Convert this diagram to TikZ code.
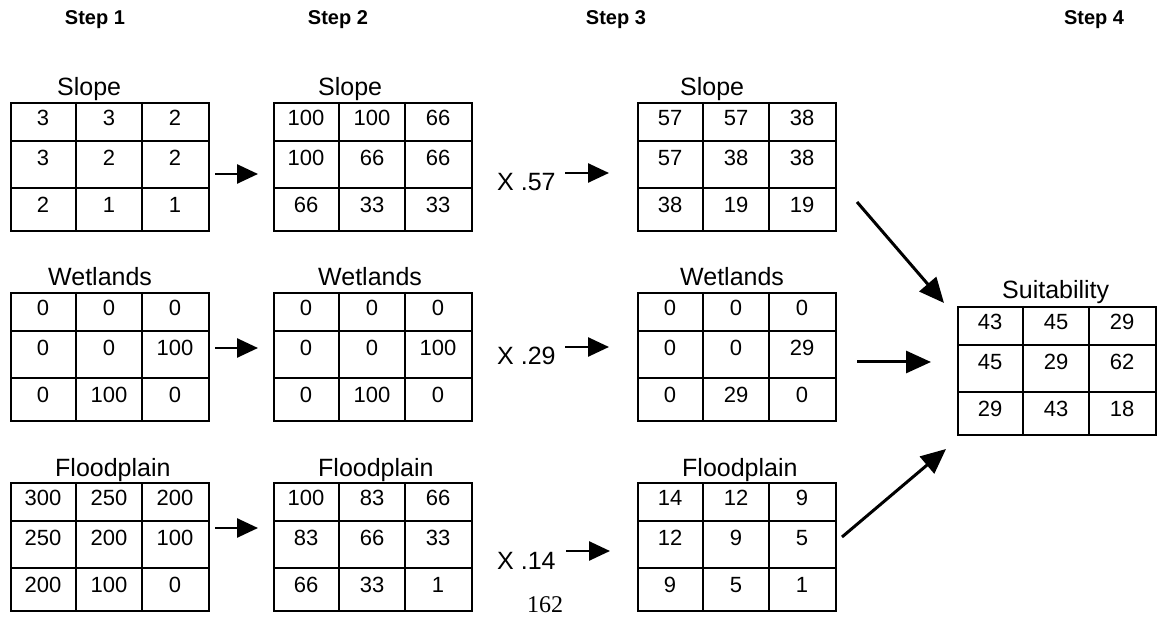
\documentclass[tikz,border=0pt]{standalone}
\usepackage{fontspec}
\setmainfont{Liberation Sans}
\newfontfamily\pagenumfont{Liberation Serif}
\usetikzlibrary{arrows.meta}

\tikzset{
  gridbox/.style={draw, line width=1.7pt, minimum width=198pt, minimum height=128pt,
                  inner sep=0pt, anchor=north west},
  gridline/.style={line width=1.7pt},
  cellval/.style={font=\fontsize{22}{24}\selectfont, inner sep=0pt, anchor=center},
  gridtitle/.style={font=\fontsize{25}{28}\selectfont, inner sep=0pt, anchor=base west},
  steplabel/.style={font=\bfseries\fontsize{20}{23}\selectfont, inner sep=0pt, anchor=base},
  factor/.style={font=\fontsize{25}{28}\selectfont, inner sep=0pt, anchor=base west},
  shortarrow/.style={line width=2.6pt, -{Triangle[length=21pt,width=19pt]}},
  bigarrow/.style={line width=3pt, -{Triangle[length=25pt,width=22pt]}},
}

% A 3x3 raster layer: name, left x, top y, rows as {a/b/c, a/b/c, a/b/c}
\newcommand{\layergrid}[4]{%
  \node[gridbox] (#1) at (#2,#3) {};
  \draw[gridline] (#2+66,#3) -- (#2+66,#3+128)
                  (#2+132,#3) -- (#2+132,#3+128)
                  (#2,#3+39) -- (#2+198,#3+39)
                  (#2,#3+86) -- (#2+198,#3+86);
  \foreach \a/\b/\c [count=\r] in {#4} {
    \pgfmathsetmacro\ry{#3+(\r==1 ? 16 : (\r==2 ? 56 : 103))}
    \node[cellval] (#1-\r-1) at (#2+33,\ry) {\a};
    \node[cellval] (#1-\r-2) at (#2+99,\ry) {\b};
    \node[cellval] (#1-\r-3) at (#2+165,\ry) {\c};
  }%
}

\begin{document}
\begin{tikzpicture}[x=1pt, y=-1pt]
  \useasboundingbox (0,0) rectangle (1159,617);

  % column headings
  \node[steplabel] (step1) at (95,25) {Step 1};
  \node[steplabel] (step2) at (338,25) {Step 2};
  \node[steplabel] (step3) at (616,25) {Step 3};
  \node[steplabel] (step4) at (1094,25) {Step 4};

  % Step 1: raw layers
  \layergrid{slopeA}{10}{102}{3/3/2, 3/2/2, 2/1/1}
  \layergrid{wetA}{10}{292}{0/0/0, 0/0/100, 0/100/0}
  \layergrid{floodA}{10}{482}{300/250/200, 250/200/100, 200/100/0}
  \node[gridtitle] (slopeAt) at (57,96) {Slope};
  \node[gridtitle] (wetAt) at (48,286) {Wetlands};
  \node[gridtitle] (floodAt) at (55,476) {Floodplain};

  % Step 2: rescaled layers
  \layergrid{slopeB}{273}{102}{100/100/66, 100/66/66, 66/33/33}
  \layergrid{wetB}{273}{292}{0/0/0, 0/0/100, 0/100/0}
  \layergrid{floodB}{273}{482}{100/83/66, 83/66/33, 66/33/1}
  \node[gridtitle] (slopeBt) at (318,96) {Slope};
  \node[gridtitle] (wetBt) at (318,286) {Wetlands};
  \node[gridtitle] (floodBt) at (318,476) {Floodplain};

  % Step 3: weighted layers
  \layergrid{slopeC}{637}{102}{57/57/38, 57/38/38, 38/19/19}
  \layergrid{wetC}{637}{292}{0/0/0, 0/0/29, 0/29/0}
  \layergrid{floodC}{637}{482}{14/12/9, 12/9/5, 9/5/1}
  \node[gridtitle] (slopeCt) at (680,96) {Slope};
  \node[gridtitle] (wetCt) at (680,286) {Wetlands};
  \node[gridtitle] (floodCt) at (682,476) {Floodplain};

  % Step 4: combined result
  \layergrid{suit}{957}{306}{43/45/29, 45/29/62, 29/43/18}
  \node[gridtitle] (suitt) at (1002,299) {Suitability};

  % weights
  \node[factor] (wSlope) at (497,191) {X .57};
  \node[factor] (wWet) at (497,365) {X .29};
  \node[factor] (wFlood) at (497,569) {X .14};

  % arrow end points
  \coordinate (a1s) at (215,174);  \coordinate (a1e) at (258,174);
  \coordinate (a2s) at (215,348);  \coordinate (a2e) at (258,348);
  \coordinate (a3s) at (215,528);  \coordinate (a3e) at (258,528);
  \coordinate (b1s) at (565,173);  \coordinate (b1e) at (609,173);
  \coordinate (b2s) at (565,347);  \coordinate (b2e) at (609,347);
  \coordinate (b3s) at (566,551);  \coordinate (b3e) at (610,551);
  \coordinate (c1s) at (857,202);  \coordinate (c1e) at (944,303);
  \coordinate (c2s) at (857,362);  \coordinate (c2e) at (931,362);
  \coordinate (c3s) at (842,537);  \coordinate (c3e) at (946,449);

  \draw[shortarrow] (a1s) -- (a1e);
  \draw[shortarrow] (a2s) -- (a2e);
  \draw[shortarrow] (a3s) -- (a3e);
  \draw[shortarrow] (b1s) -- (b1e);
  \draw[shortarrow] (b2s) -- (b2e);
  \draw[shortarrow] (b3s) -- (b3e);
  \draw[bigarrow] (c1s) -- (c1e);
  \draw[bigarrow] (c2s) -- (c2e);
  \draw[bigarrow] (c3s) -- (c3e);

  % page number
  \node[font=\pagenumfont\fontsize{24}{27}\selectfont, inner sep=0pt, anchor=base] (pagenum) at (545,612) {162};
\end{tikzpicture}
\end{document}
